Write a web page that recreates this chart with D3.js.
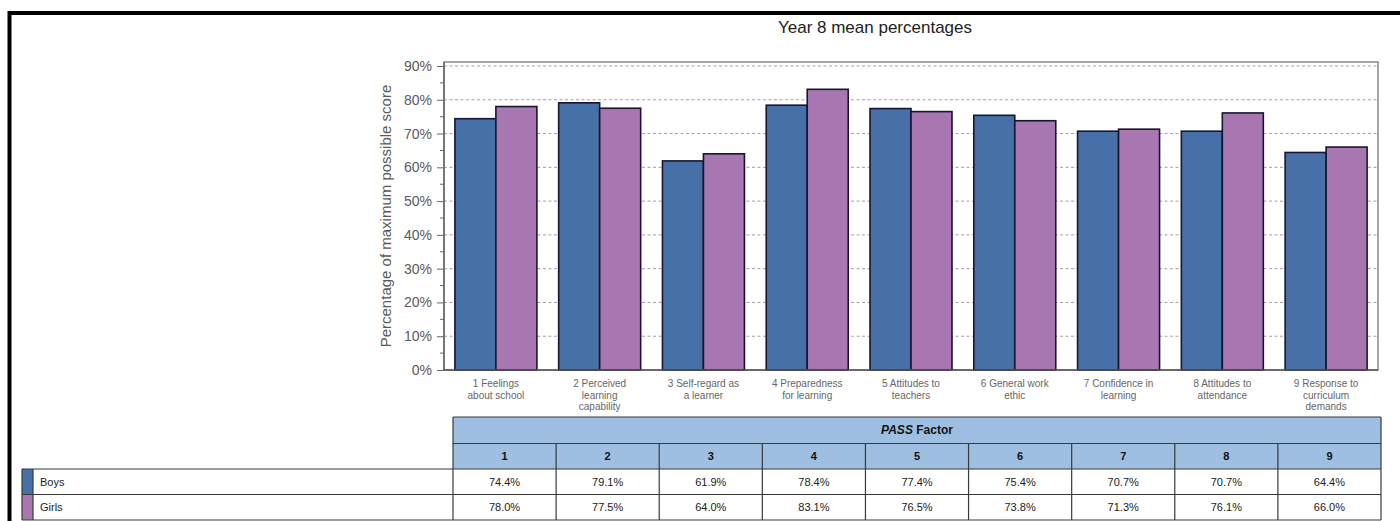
<!DOCTYPE html>
<html>
<head>
<meta charset="utf-8">
<script src="https://cdn.jsdelivr.net/npm/d3@7"></script>
<style>
  html, body { margin: 0; padding: 0; background: #fff; }
  svg { display: block; font-family: Arial, "Liberation Sans", sans-serif; }
</style>
</head>
<body>
<svg id="chart" width="1400" height="521"></svg>
<script>
// PASS factor numbers and their descriptive labels
const factors = ["1", "2", "3", "4", "5", "6", "7", "8", "9"];
const factorLabels = [
  ["1 Feelings", "about school"],
  ["2 Perceived", "learning", "capability"],
  ["3 Self-regard as", "a learner"],
  ["4 Preparedness", "for learning"],
  ["5 Attitudes to", "teachers"],
  ["6 General work", "ethic"],
  ["7 Confidence in", "learning"],
  ["8 Attitudes to", "attendance"],
  ["9 Response to", "curriculum", "demands"]
];
const seriesNames = ["Boys", "Girls"];
const boys = [74.4, 79.1, 61.9, 78.4, 77.4, 75.4, 70.7, 70.7, 64.4];
const girls = [78.0, 77.5, 64.0, 83.1, 76.5, 73.8, 71.3, 76.1, 66.0];
const yTicks = [0, 10, 20, 30, 40, 50, 60, 70, 80, 90];
const yMinorTicks = [5, 15, 25, 35, 45, 55, 65, 75, 85];

const seriesValues = [boys, girls];
const colors = { Boys: "#4670a7", Girls: "#a877b1" };

const svg = d3.select("#chart");

// outer frame (top and left edges)
svg.append("path")
  .attr("d", "M9.5,521 L9.5,13 L1400,13")
  .attr("fill", "none").attr("stroke", "#000").attr("stroke-width", 4);

// title
svg.append("text")
  .attr("x", 875).attr("y", 33)
  .attr("text-anchor", "middle")
  .attr("font-size", 17).attr("fill", "#222")
  .text("Year 8 mean percentages");

// plot area
const plot = { left: 444, right: 1378, top: 62, bottom: 370 };

const y = d3.scaleLinear().domain([0, 90]).range([plot.bottom, 66]);

const x0 = d3.scaleBand().domain(factors)
  .range([plot.left, plot.right])
  .paddingInner(0.21).paddingOuter(0.105);
const x1 = d3.scaleBand().domain(seriesNames)
  .range([0, x0.bandwidth()]).padding(0);

// box outline
svg.append("rect")
  .attr("x", plot.left).attr("y", plot.top)
  .attr("width", plot.right - plot.left).attr("height", plot.bottom - plot.top)
  .attr("fill", "none").attr("stroke", "#8a8a8a").attr("stroke-width", 1.5);

// dashed gridlines
svg.append("g").selectAll("line")
  .data(yTicks.filter(d => d > 0))
  .join("line")
  .attr("x1", plot.left).attr("x2", plot.right)
  .attr("y1", d => y(d)).attr("y2", d => y(d))
  .attr("stroke", "#a0a0a0").attr("stroke-width", 1)
  .attr("stroke-dasharray", "3,2.5");

// y axis with major ticks and labels
const yAxis = d3.axisLeft(y).tickValues(yTicks)
  .tickFormat(d => d + "%").tickSize(7).tickPadding(5);
const gy = svg.append("g").attr("transform", `translate(${plot.left},0)`).call(yAxis);
gy.select(".domain").attr("stroke", "#666").attr("stroke-width", 1.5)
  .attr("d", `M0,${plot.top}V${plot.bottom}`);
gy.selectAll(".tick line").attr("stroke", "#666");
gy.selectAll(".tick text").attr("font-size", 14).attr("fill", "#5a5a5a")
  .attr("font-family", "Arial, 'Liberation Sans', sans-serif");

// minor ticks
svg.append("g").selectAll("line")
  .data(yMinorTicks)
  .join("line")
  .attr("x1", plot.left - 4).attr("x2", plot.left)
  .attr("y1", d => y(d)).attr("y2", d => y(d))
  .attr("stroke", "#666");

// y axis title
svg.append("text")
  .attr("transform", `translate(390.5,216) rotate(-90)`)
  .attr("text-anchor", "middle")
  .attr("font-size", 15).attr("fill", "#5a5a5a")
  .text("Percentage of maximum possible score");

// bars
const groups = svg.append("g").selectAll("g")
  .data(factors)
  .join("g")
  .attr("transform", d => `translate(${x0(d)},0)`);

groups.selectAll("rect")
  .data((d, i) => seriesNames.map((s, j) => ({ s, v: seriesValues[j][i] })))
  .join("rect")
  .attr("x", d => x1(d.s))
  .attr("y", d => y(d.v))
  .attr("width", x1.bandwidth())
  .attr("height", d => plot.bottom - y(d.v))
  .attr("fill", d => colors[d.s])
  .attr("stroke", "#161630").attr("stroke-width", 1.6);

// bottom axis line
svg.append("line")
  .attr("x1", plot.left).attr("x2", plot.right)
  .attr("y1", plot.bottom).attr("y2", plot.bottom)
  .attr("stroke", "#555").attr("stroke-width", 1.5);

// category labels
const catLabels = svg.append("g").selectAll("text")
  .data(factors)
  .join("text")
  .attr("x", d => x0(d) + x0.bandwidth() / 2)
  .attr("y", 387)
  .attr("text-anchor", "middle")
  .attr("font-size", 10).attr("fill", "#666");
catLabels.each(function (d, i) {
  d3.select(this).selectAll("tspan")
    .data(factorLabels[i])
    .join("tspan")
    .attr("x", x0(d) + x0.bandwidth() / 2)
    .attr("dy", (t, k) => k === 0 ? 0 : 11.5)
    .text(t => t);
});

// data table
const table = { left: 453, right: 1381, labelLeft: 22, swatchRight: 33 };
const rows = { headTop: 417, headMid: 443.5, body0: 469, body1: 494.5, bottom: 520 };
const col = d3.scaleBand().domain(factors).range([table.left, table.right]).padding(0);
const lineColor = "#3a3a3a";

// header background
svg.append("rect")
  .attr("x", table.left).attr("y", rows.headTop)
  .attr("width", table.right - table.left).attr("height", rows.body0 - rows.headTop)
  .attr("fill", "#9ebfe1");

// swatches for the series rows
svg.append("g").selectAll("rect")
  .data(seriesNames)
  .join("rect")
  .attr("x", table.labelLeft)
  .attr("y", (d, i) => i === 0 ? rows.body0 : rows.body1)
  .attr("width", table.swatchRight - table.labelLeft)
  .attr("height", (d, i) => i === 0 ? rows.body1 - rows.body0 : rows.bottom - rows.body1)
  .attr("fill", d => colors[d]);

const tl = svg.append("g").attr("stroke", lineColor).attr("stroke-width", 1.2);
// horizontal rules
[[table.left, rows.headTop], [table.left, rows.headMid], [table.labelLeft, rows.body0],
 [table.labelLeft, rows.body1], [table.labelLeft, rows.bottom]].forEach(([x, yy]) => {
  tl.append("line").attr("x1", x).attr("x2", table.right).attr("y1", yy).attr("y2", yy);
});
// outer verticals
[[table.left, rows.headTop], [table.right, rows.headTop],
 [table.labelLeft, rows.body0], [table.swatchRight, rows.body0]].forEach(([x, yy]) => {
  tl.append("line").attr("x1", x).attr("x2", x).attr("y1", yy).attr("y2", rows.bottom);
});
// column separators
factors.slice(1).forEach(f => {
  tl.append("line").attr("x1", col(f)).attr("x2", col(f))
    .attr("y1", rows.headMid).attr("y2", rows.bottom);
});

// header title
const ht = svg.append("text")
  .attr("x", (table.left + table.right) / 2)
  .attr("y", (rows.headTop + rows.headMid) / 2 + 4)
  .attr("text-anchor", "middle")
  .attr("font-size", 12).attr("font-weight", "bold").attr("fill", "#111");
ht.append("tspan").attr("font-style", "italic").text("PASS");
ht.append("tspan").text(" Factor");

// header numbers
svg.append("g").selectAll("text")
  .data(factors)
  .join("text")
  .attr("x", d => col(d) + col.bandwidth() / 2)
  .attr("y", (rows.headMid + rows.body0) / 2 + 4)
  .attr("text-anchor", "middle")
  .attr("font-size", 11).attr("font-weight", "bold").attr("fill", "#111")
  .text(d => d);

// series names
svg.append("g").selectAll("text")
  .data(seriesNames)
  .join("text")
  .attr("x", 40)
  .attr("y", (d, i) => (i === 0 ? (rows.body0 + rows.body1) / 2 : (rows.body1 + rows.bottom) / 2) + 4)
  .attr("font-size", 11).attr("fill", "#222")
  .text(d => d);

// values
seriesNames.forEach((s, j) => {
  const yy = (j === 0 ? (rows.body0 + rows.body1) / 2 : (rows.body1 + rows.bottom) / 2) + 4;
  svg.append("g").selectAll("text")
    .data(seriesValues[j])
    .join("text")
    .attr("x", (d, i) => col(factors[i]) + col.bandwidth() / 2)
    .attr("y", yy)
    .attr("text-anchor", "middle")
    .attr("font-size", 11).attr("fill", "#222")
    .text(d => d.toFixed(1) + "%");
});
</script>
</body>
</html>
